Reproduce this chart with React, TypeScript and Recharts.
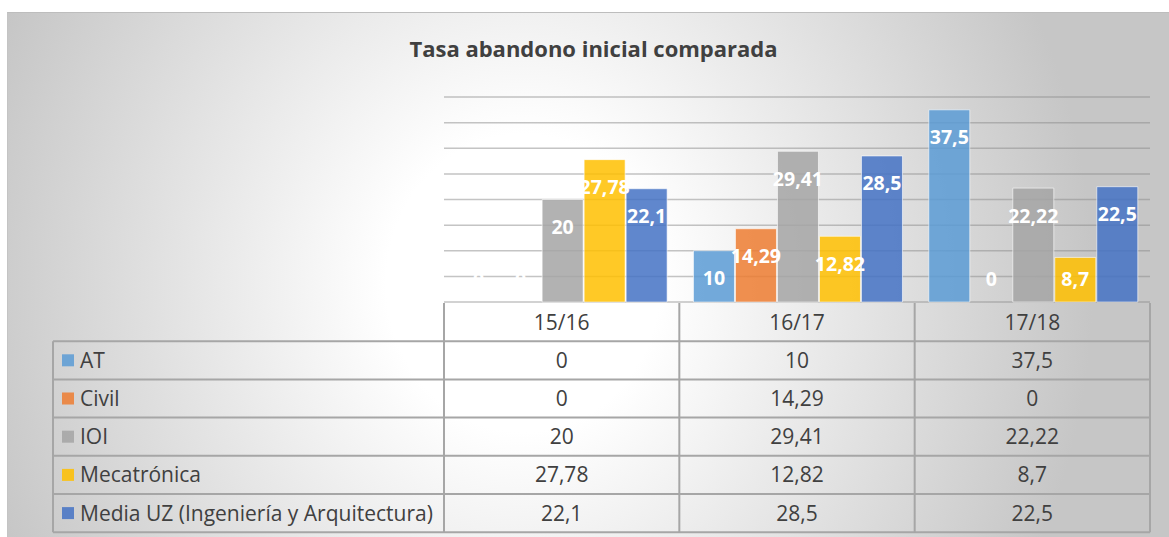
import React from 'react';
import { BarChart, Bar, Cell, XAxis, YAxis, CartesianGrid, LabelList } from 'recharts';

const categories = ['15/16', '16/17', '17/18'];
const atValues = [0, 10, 37.5];
const civilValues = [0, 14.29, 0];
const ioiValues = [20, 29.41, 22.22];
const mecaValues = [27.78, 12.82, 8.7];
const mediaValues = [22.1, 28.5, 22.5];
const yTicks = [0, 5, 10, 15, 20, 25, 30, 35, 40];

const series = [
  { key: 'at', name: 'AT', values: atValues, color: '#5B9BD5' },
  { key: 'civil', name: 'Civil', values: civilValues, color: '#ED7D31' },
  { key: 'ioi', name: 'IOI', values: ioiValues, color: '#A5A5A5' },
  { key: 'meca', name: 'Mecatrónica', values: mecaValues, color: '#FFC000' },
  { key: 'media', name: 'Media UZ (Ingeniería y Arquitectura)', values: mediaValues, color: '#4472C4' },
];

const data = categories.map((cat, i) => {
  const row: Record<string, string | number> = { cat };
  series.forEach((s) => {
    row[s.key] = s.values[i];
  });
  return row;
});

const W = 1169;
const H = 537;
const PLOT_LEFT = 444;
const PLOT_RIGHT = 1150;
const PLOT_TOP = 97;
const AXIS_Y = 302;
const TABLE_LEFT = 53;
const ROW_H = 38.2;
const FONT = '"Open Sans", sans-serif';
const TEXT = '#404040';
const LINE = '#a6a6a6';

const fmt = (v: number) => String(v).replace('.', ',');

// inside end, but never closer than 23px to the axis (zero bars keep their label too)
const renderLabel = (props: any) => {
  const x = Number(props.x) || 0;
  const y = Number(props.y) || 0;
  const width = Number(props.width) || 0;
  const height = Number(props.height) || 0;
  const cy = Math.min(y + 27.5, y + height - 23);
  return (
    <text
      x={x + width / 2}
      y={cy + 7}
      textAnchor="middle"
      fill="#ffffff"
      fontWeight={700}
      fontSize={19.5}
      fontFamily={FONT}
    >
      {fmt(Number(props.value))}
    </text>
  );
};

const DataTable: React.FC = () => {
  const colW = (PLOT_RIGHT - PLOT_LEFT) / categories.length;
  const top = AXIS_Y + 1;
  const bottom = top + ROW_H * (series.length + 1);
  const lines: React.ReactNode[] = [];
  for (let k = 1; k <= series.length + 1; k++) {
    const y = top + k * ROW_H;
    lines.push(<line key={`h${k}`} x1={TABLE_LEFT} x2={PLOT_RIGHT} y1={y} y2={y} stroke={LINE} strokeWidth={2} />);
  }
  lines.push(<line key="vl" x1={TABLE_LEFT} x2={TABLE_LEFT} y1={top + ROW_H} y2={bottom} stroke={LINE} strokeWidth={2} />);
  for (let c = 0; c <= categories.length; c++) {
    const x = PLOT_LEFT + c * colW;
    lines.push(<line key={`v${c}`} x1={x} x2={x} y1={top} y2={bottom} stroke={LINE} strokeWidth={2} />);
  }
  return (
    <svg width={W} height={H} style={{ position: 'absolute', left: 0, top: 0, pointerEvents: 'none' }}>
      {lines}
      {categories.map((cat, c) => (
        <text key={cat} x={PLOT_LEFT + (c + 0.5) * colW} y={top + ROW_H / 2 + 7.5} textAnchor="middle" fill={TEXT} fontSize={21} fontFamily={FONT}>
          {cat}
        </text>
      ))}
      {series.map((s, r) => {
        const cy = top + (r + 1.5) * ROW_H;
        return (
          <g key={s.key}>
            <rect x={62} y={cy - 6} width={12} height={12} fill={s.color} fillOpacity={0.85} />
            <text x={80} y={cy + 7.5} fill={TEXT} fontSize={21} fontFamily={FONT}>
              {s.name}
            </text>
            {s.values.map((v, c) => (
              <text key={c} x={PLOT_LEFT + (c + 0.5) * colW} y={cy + 7.5} textAnchor="middle" fill={TEXT} fontSize={21} fontFamily={FONT}>
                {fmt(v)}
              </text>
            ))}
          </g>
        );
      })}
    </svg>
  );
};

const App: React.FC = () => {
  return (
    <div style={{ position: 'absolute', left: 0, top: 0, width: W, height: H, overflow: 'hidden' }}>
      <div
        style={{
          position: 'absolute',
          left: 7,
          top: 12,
          width: W - 7,
          height: H - 12,
          borderTop: '1px solid #bdbdbd',
          borderLeft: '1px solid #c4c4c4',
          background: 'radial-gradient(ellipse 570px 620px at 515px 270px, #ffffff 24%, #c6c6c6 100%)',
        }}
      />
      <div
        style={{
          position: 'absolute',
          left: 0,
          width: W,
          top: 33,
          textAlign: 'center',
          paddingLeft: 18,
          boxSizing: 'border-box',
          fontFamily: FONT,
          fontWeight: 700,
          fontSize: 22,
          color: TEXT,
        }}
      >
        Tasa abandono inicial comparada
      </div>
      <div style={{ position: 'absolute', left: 0, top: 0 }}>
        <BarChart
          width={W}
          height={H}
          data={data}
          margin={{ top: PLOT_TOP, right: W - PLOT_RIGHT, bottom: H - AXIS_Y, left: PLOT_LEFT }}
          barCategoryGap="6%"
          barGap={1}
        >
          <CartesianGrid vertical={false} stroke="#8a8a8a" strokeOpacity={0.5} strokeWidth={1.5} />
          <YAxis hide domain={[0, 40]} ticks={yTicks} />
          <XAxis
            dataKey="cat"
            height={0}
            tick={false}
            tickLine={false}
            axisLine={{ stroke: '#7f7f7f', strokeWidth: 2.5 }}
          />
          {series.map((s) => (
            <Bar
              key={s.key}
              dataKey={s.key}
              name={s.name}
              fill={s.color}
              fillOpacity={0.85}
              strokeOpacity={0.6}
              strokeWidth={1}
              minPointSize={0.01}
              isAnimationActive={false}
            >
              {s.values.map((v, i) => (
                <Cell key={i} stroke={v === 0 ? 'none' : '#ffffff'} fillOpacity={v === 0 ? 0 : 0.85} />
              ))}
              <LabelList dataKey={s.key} content={renderLabel} />
            </Bar>
          ))}
        </BarChart>
      </div>
      <DataTable />
    </div>
  );
};

export default App;
